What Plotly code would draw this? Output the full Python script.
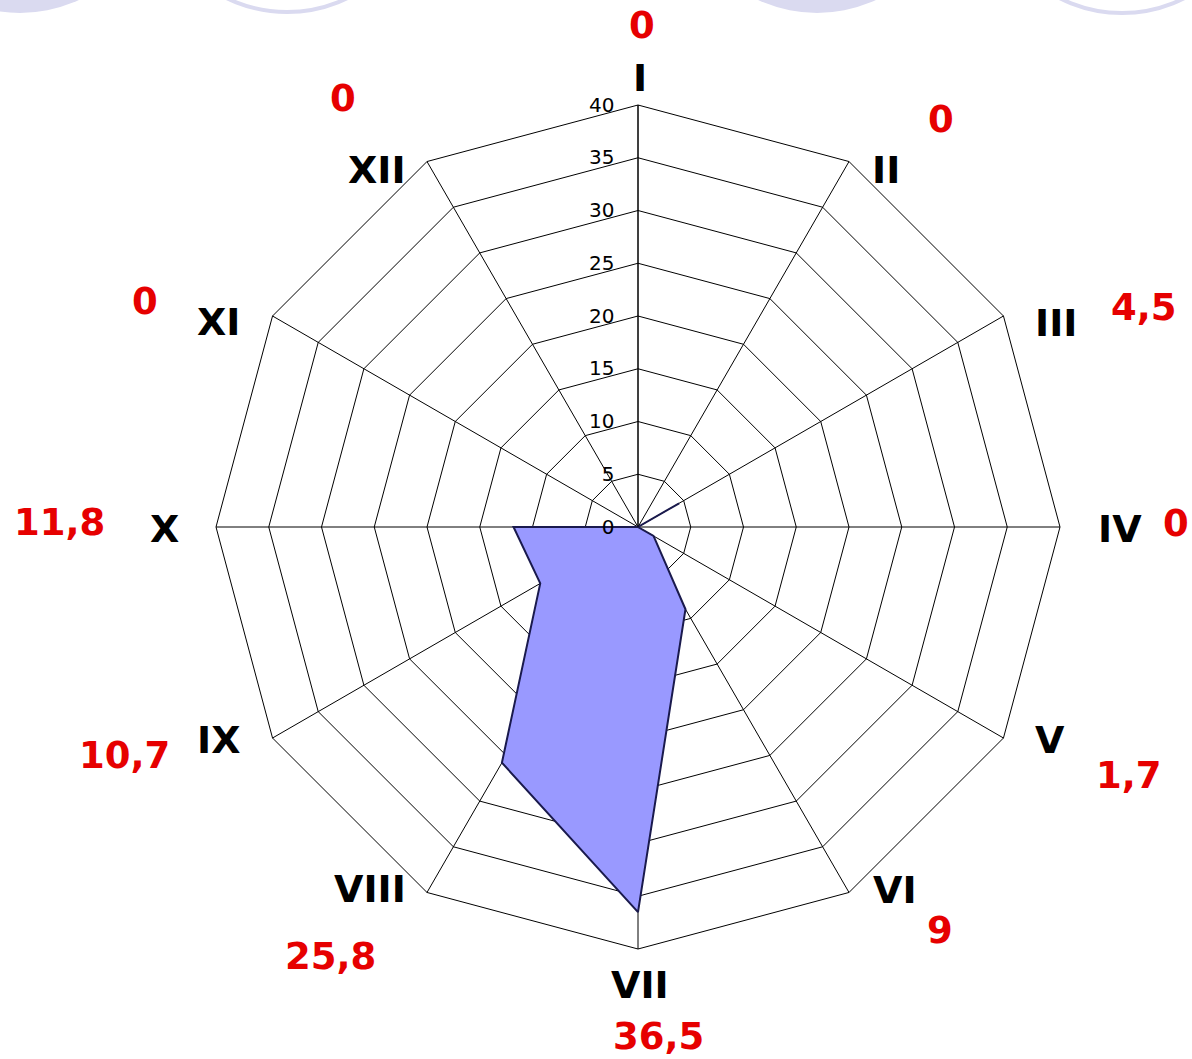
import plotly.graph_objects as go

# ---- data ----
months = ["I", "II", "III", "IV", "V", "VI", "VII", "VIII", "IX", "X", "XI", "XII"]
values = [0, 0, 4.5, 0, 1.7, 9, 36.5, 25.8, 10.7, 11.8, 0, 0]
radial_ticks = [0, 5, 10, 15, 20, 25, 30, 35, 40]

# label placement (pixels in the 1192x1059 page), layout only
value_label_px = [(642, 25), (941, 119), (1144, 307), (1176, 523), (1129, 775), (940, 930),
                  (658, 1036), (330, 956), (124, 756), (60, 522), (145, 301), (343, 99)]
month_label_px = [(640, 78), (886, 170), (1056, 323), (1120, 529), (1050, 740), (895, 890),
                  (640, 985), (370, 889), (218, 740), (164, 529), (218, 322), (377, 170)]

W, H = 1192, 1059
CX, CY, R = 638, 527, 422


def fmt(v):
    if float(v).is_integer():
        return str(int(v))
    return f"{v}".replace(".", ",")


fig = go.Figure()
fig.add_trace(go.Scatterpolar(
    r=values + [values[0]],
    theta=months + [months[0]],
    mode="lines",
    fill="toself",
    fillcolor="#9999ff",
    line=dict(color="#1a1a4d", width=2),
    hoverinfo="skip",
))

annotations = []
for (px, py), m in zip(month_label_px, months):
    annotations.append(dict(
        x=px / W, y=1 - py / H, xref="paper", yref="paper",
        text=m, showarrow=False, xanchor="center", yanchor="middle",
        font=dict(family="DejaVu Sans", size=38, color="black", weight="bold"),
    ))
for (px, py), v in zip(value_label_px, values):
    annotations.append(dict(
        x=px / W, y=1 - py / H, xref="paper", yref="paper",
        text=fmt(v), showarrow=False, xanchor="center", yanchor="middle",
        font=dict(family="DejaVu Sans", size=37, color="#e60000", weight="bold"),
    ))

lav = "#dadaf0"
shapes = [
    dict(type="circle", xref="paper", yref="paper", layer="below",
         x0=(20 - 140) / W, x1=(20 + 140) / W, y0=1 - (-127 + 140) / H, y1=1 - (-127 - 140) / H,
         fillcolor=lav, line=dict(width=0)),
    dict(type="circle", xref="paper", yref="paper", layer="below",
         x0=(287 - 138) / W, x1=(287 + 138) / W, y0=1 - (-126 + 138) / H, y1=1 - (-126 - 138) / H,
         fillcolor="rgba(0,0,0,0)", line=dict(width=4, color=lav)),
    dict(type="circle", xref="paper", yref="paper", layer="below",
         x0=(817 - 140) / W, x1=(817 + 140) / W, y0=1 - (-127 + 140) / H, y1=1 - (-127 - 140) / H,
         fillcolor=lav, line=dict(width=0)),
    dict(type="circle", xref="paper", yref="paper", layer="below",
         x0=(1122 - 138) / W, x1=(1122 + 138) / W, y0=1 - (-125 + 138) / H, y1=1 - (-125 - 138) / H,
         fillcolor="rgba(0,0,0,0)", line=dict(width=4, color=lav)),
]

fig.update_layout(
    width=W, height=H,
    margin=dict(l=0, r=0, t=0, b=0),
    paper_bgcolor="white",
    showlegend=False,
    annotations=annotations,
    shapes=shapes,
    polar=dict(
        domain=dict(x=[(CX - R) / W, (CX + R) / W], y=[1 - (CY + R) / H, 1 - (CY - R) / H]),
        bgcolor="white",
        gridshape="linear",
        angularaxis=dict(
            categoryorder="array", categoryarray=months,
            rotation=90, direction="clockwise",
            showline=True, linecolor="black", linewidth=1,
            showgrid=True, gridcolor="black", gridwidth=1,
            ticks="", showticklabels=False,
        ),
        radialaxis=dict(
            range=[0, 40], tickvals=radial_ticks, ticktext=[str(t) for t in radial_ticks],
            angle=90, side="counterclockwise", tickangle=90,
            showline=True, linecolor="black", linewidth=1,
            showgrid=True, gridcolor="black", gridwidth=1,
            ticks="outside", ticklen=16, tickcolor="rgba(0,0,0,0)",
            tickfont=dict(family="DejaVu Sans", size=20, color="black"),
        ),
    ),
)

fig.write_html(
    "out.html",
    config={"displayModeBar": False},
    post_script="document.body.style.margin='0px';document.body.style.overflow='hidden';",
)
